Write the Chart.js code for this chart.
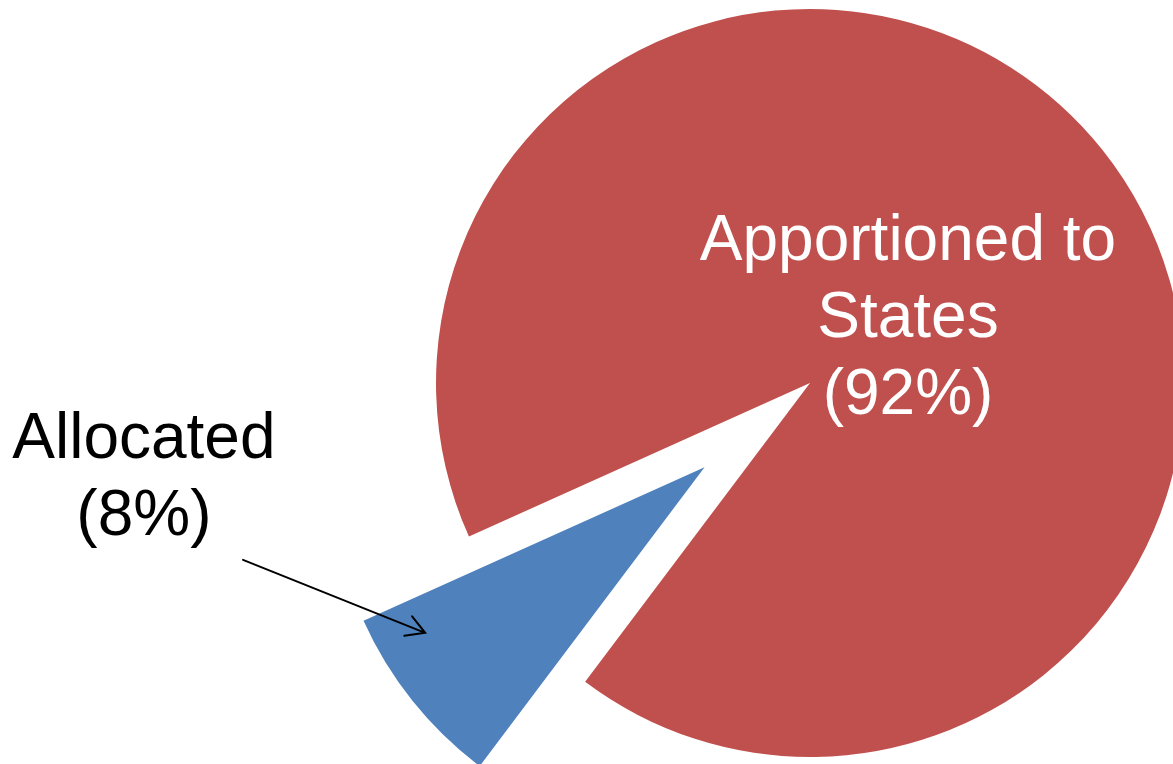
<!DOCTYPE html>
<html>
<head>
<meta charset="utf-8">
<script src="https://cdn.jsdelivr.net/npm/chart.js@4/dist/chart.umd.min.js"></script>
<style>
  html, body { margin: 0; padding: 0; background: #fff; overflow: hidden; }
  #chart { display: block; }
</style>
</head>
<body>
<canvas id="chart" width="1173" height="764"></canvas>
<script>
// Data
const categories = ['Allocated', 'Apportioned to States'];
const shares = [8, 92];
const labelLines = [
    ['Allocated', '(8%)'],
    ['Apportioned to', 'States', '(92%)'],
];

// Styling
const sliceColors = ['#4F81BD', '#C0504D'];
const labelColors = ['#000000', '#ffffff'];
const explodeBy = [135, 0];          // px the slice is pulled out
const RADIUS = 374;
const FONT = '64px "Liberation Sans", Arial, sans-serif';
const LINE_H = 77;

// label anchors, in radius units from the pie centre
const labelAnchor = [
    { x: -1.781, y: 0.200 },
    { x: 0.262, y: -0.329 },
];
const arrowFrom = { x: -1.516, y: 0.473 };
const arrowTo = { x: -1.029, y: 0.668 };

/**
 * Pull exploded slices out along their bisector
 */
const explodePlugin = {
    id: 'explode',
    afterDatasetsUpdate(chart) {
        const meta = chart.getDatasetMeta(0);
        meta.data.forEach((arc, i) => {
            const d = explodeBy[i] || 0;
            if (!d) return;
            const mid = (arc.startAngle + arc.endAngle) / 2;
            arc.x += Math.cos(mid) * d;
            arc.y += Math.sin(mid) * d;
        });
    },
};

/**
 * Slice labels and the pointer arrow
 */
const labelPlugin = {
    id: 'sliceLabels',
    afterDraw(chart) {
        const ctx = chart.ctx;
        const meta = chart.getDatasetMeta(0);
        const base = meta.data[1];
        const cx = base.x;
        const cy = base.y;
        const r = base.outerRadius;

        ctx.save();
        ctx.font = FONT;
        ctx.textAlign = 'center';
        ctx.textBaseline = 'alphabetic';
        labelLines.forEach((lines, i) => {
            ctx.fillStyle = labelColors[i];
            const x = cx + labelAnchor[i].x * r;
            const y = cy + labelAnchor[i].y * r;
            lines.forEach((line, j) => ctx.fillText(line, x, y + j * LINE_H));
        });

        // arrow to the small slice
        const x1 = cx + arrowFrom.x * r, y1 = cy + arrowFrom.y * r;
        const x2 = cx + arrowTo.x * r, y2 = cy + arrowTo.y * r;
        const ang = Math.atan2(y2 - y1, x2 - x1);
        const head = 21;
        ctx.strokeStyle = '#000';
        ctx.lineWidth = 2;
        ctx.lineCap = 'round';
        ctx.beginPath();
        ctx.moveTo(x1, y1);
        ctx.lineTo(x2, y2);
        ctx.moveTo(x2 + Math.cos(ang + Math.PI - 0.52) * head, y2 + Math.sin(ang + Math.PI - 0.52) * head);
        ctx.lineTo(x2, y2);
        ctx.lineTo(x2 + Math.cos(ang + Math.PI + 0.52) * head, y2 + Math.sin(ang + Math.PI + 0.52) * head);
        ctx.stroke();
        ctx.restore();
    },
};

new Chart(document.getElementById('chart'), {
    type: 'pie',
    data: {
        labels: categories,
        datasets: [{
            data: shares,
            backgroundColor: sliceColors,
            borderWidth: 0,
            hoverOffset: 0,
        }],
    },
    options: {
        responsive: false,
        animation: false,
        events: [],
        devicePixelRatio: 1,
        rotation: 216.96,
        radius: RADIUS,
        layout: { padding: { left: 447, top: 2, right: 0, bottom: 0 } },
        plugins: {
            legend: { display: false },
            tooltip: { enabled: false },
        },
    },
    plugins: [explodePlugin, labelPlugin],
});
</script>
</body>
</html>
